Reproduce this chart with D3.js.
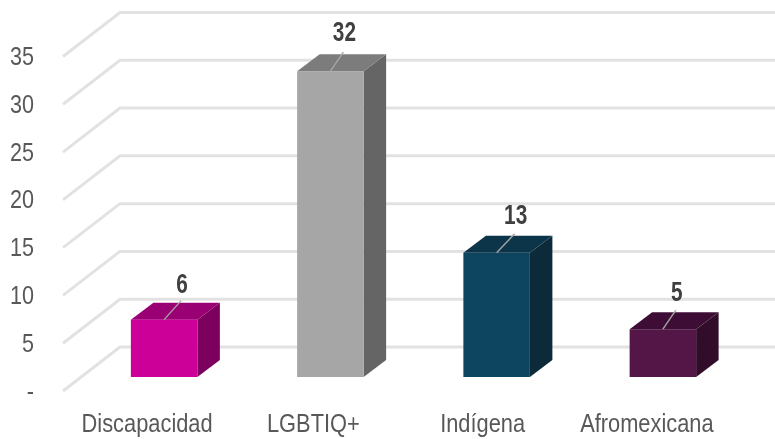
<!DOCTYPE html>
<html><head><meta charset="utf-8">
<script src="https://cdnjs.cloudflare.com/ajax/libs/d3/7.8.5/d3.min.js"></script>
<style>html,body{margin:0;padding:0;background:#fff}svg{display:block}
text{font-family:"Liberation Sans",Arial,sans-serif}</style>
</head><body><svg id="c" width="775" height="439"></svg>
<script>
const categories=["Discapacidad","LGBTIQ+","Indígena","Afromexicana"];
const values=[6,32,13,5];
const frontColors=["#cc0099","#a6a6a6","#114560","#521747"];
const topColors=["#990073","#7c7c7c","#0d3448","#3d1135"];
const sideColors=["#7c005d","#656565","#0b2b3a","#320e2b"];
const yTicks=[0,5,10,15,20,25,30,35];
const tickLabels=["-","5","10","15","20","25","30","35"];

const svg=d3.select("#c");
const defs=svg.append("defs");
defs.append("filter").attr("id","soft").append("feGaussianBlur").attr("stdDeviation",0.6);
defs.append("filter").attr("id","softer").append("feGaussianBlur").attr("stdDeviation",0.35);

const y=d3.scaleLinear().domain([0,35]).range([377,42.5]);
const x=d3.scaleBand().domain(categories).range([81,746]).paddingInner(0.6).paddingOuter(0.3);
const depthX=22.5,depthY=17;
const wallLeft=63,wallBack=120,wallRight=775;
const leftDrop=14,backRise=30;
const labelShift=[18,14,19,14];
const labelRise=[27,30,29,28];
const categoryShift=[-17,-17,-14,-16];

const grid=svg.append("g").attr("filter","url(#soft)");
grid.selectAll("path").data(yTicks).join("path")
  .attr("fill","none").attr("stroke","#e2e2e2").attr("stroke-width",3)
  .attr("d",d=>d3.line()([[wallLeft,y(d)+leftDrop],[wallBack,y(d)-backRise],[wallRight,y(d)-backRise]]));

const bars=svg.append("g").attr("filter","url(#softer)").selectAll("g").data(categories).join("g");
const X=c=>x(c),W=x.bandwidth();
const val=i=>values[i];
bars.append("path").attr("fill",(c,i)=>sideColors[i])
  .attr("d",(c,i)=>d3.line()([[X(c)+W,y(val(i))],[X(c)+W+depthX,y(val(i))-depthY],[X(c)+W+depthX,y(0)-depthY],[X(c)+W,y(0)]])+"Z");
bars.append("path").attr("fill",(c,i)=>topColors[i])
  .attr("d",(c,i)=>d3.line()([[X(c),y(val(i))],[X(c)+depthX,y(val(i))-depthY],[X(c)+W+depthX,y(val(i))-depthY],[X(c)+W,y(val(i))]])+"Z");
bars.append("rect").attr("fill",(c,i)=>frontColors[i])
  .attr("x",c=>X(c)).attr("width",W)
  .attr("y",(c,i)=>y(val(i))).attr("height",(c,i)=>y(0)-y(val(i)));
bars.append("line").attr("stroke","#a6a6a6").attr("stroke-width",1.4)
  .attr("x1",c=>X(c)+W/2).attr("x2",(c,i)=>X(c)+W/2+labelShift[i]-1)
  .attr("y1",(c,i)=>y(val(i))).attr("y2",(c,i)=>y(val(i))-19);

const labels=svg.append("g").attr("filter","url(#softer)");
labels.selectAll("text.v").data(categories).join("text").attr("class","v")
  .attr("transform",(c,i)=>`translate(${X(c)+W/2+labelShift[i]},${y(val(i))-labelRise[i]}) scale(0.77,1)`)
  .attr("text-anchor","middle").attr("font-size",27).attr("font-weight","bold").attr("fill","#404040")
  .text((c,i)=>val(i));
labels.selectAll("text.t").data(yTicks).join("text").attr("class","t")
  .attr("transform",d=>`translate(34,${y(d)+22.5}) scale(0.83,1)`)
  .attr("text-anchor","end").attr("font-size",26).attr("fill","#595959")
  .text((d,i)=>tickLabels[i]);
labels.selectAll("text.c").data(categories).join("text").attr("class","c")
  .attr("transform",(c,i)=>`translate(${X(c)+W/2+categoryShift[i]},432) scale(0.84,1)`)
  .attr("text-anchor","middle").attr("font-size",26).attr("fill","#595959")
  .text(c=>c);
</script></body></html>
